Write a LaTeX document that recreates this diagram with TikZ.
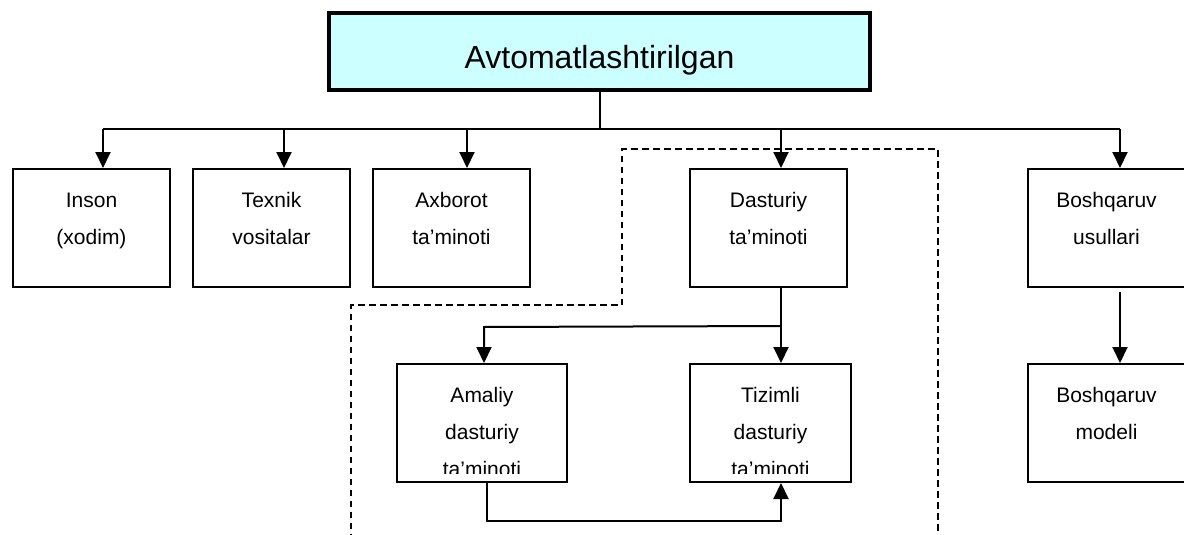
\documentclass[tikz,border=0pt]{standalone}
\usepackage{fontspec}
\setmainfont{Liberation Sans}
\usetikzlibrary{arrows.meta,calc}
\definecolor{titlecyan}{RGB}{204,255,255}
\tikzset{
  box/.style={draw, line width=2pt, anchor=north west, inner sep=0pt,
    minimum width=157pt, minimum height=118pt, align=center,
    text height=75pt, text depth=43pt, font=\fontsize{21}{37}\selectfont},
  threelines/.style={text height=112pt, text depth=6pt},
  titlebox/.style={draw, line width=4pt, fill=titlecyan, inner sep=0pt,
    minimum width=541pt, minimum height=77pt,
    text height=56pt, text depth=21pt, font=\fontsize{32}{38}\selectfont},
  arr/.style={line width=2pt, -{Triangle[length=16pt,width=15pt]}},
  link/.style={line width=2pt},
  fence/.style={line width=1.5pt, dash pattern=on 6.5pt off 4.5pt}
}
\begin{document}
\begin{tikzpicture}[x=1pt,y=-1pt]
\useasboundingbox (0,0) rectangle (1184,535);
% title
\node[titlebox] (auto) at (599.5,51.5) {Avtomatlashtirilgan};
% top row
\node[box] (inson) at (12,168) {Inson\\(xodim)};
\node[box] (texnik) at (192,168) {Texnik\\vositalar};
\node[box] (axborot) at (372,168) {Axborot\\ta’minoti};
\node[box] (dastur) at (689,168) {Dasturiy\\ta’minoti};
\node[box] (boshusul) at (1027,168) {Boshqaruv\\usullari};
% bottom row
\node[box, minimum width=170pt] (amaliy) at (396,363) {};
\node[box, minimum width=161pt] (tizimli) at (689,363) {};
\node[box] (boshmodel) at (1027,363) {Boshqaruv\\modeli};
\begin{scope}
  \clip (amaliy.north west) rectangle ($(amaliy.south east)+(0,-10)$);
  \node[box, threelines, draw=none, anchor=north] (amaliytxt) at (amaliy.north) {Amaliy\\dasturiy\\ta’minoti};
\end{scope}
\begin{scope}
  \clip (tizimli.north west) rectangle ($(tizimli.south east)+(0,-10)$);
  \node[box, threelines, draw=none, anchor=north] (tizimlitxt) at (tizimli.north) {Tizimli\\dasturiy\\ta’minoti};
\end{scope}
% bus
\coordinate (bus) at (auto.south |- 0,129);
\draw[link] (auto.south) -- (bus);
\draw[link] ($(inson.north |- bus)+(11.5,0)$) -- ($(boshusul.north |- bus)+(13.5,0)$);
\foreach \n/\dx in {inson/11.5,texnik/12.5,axborot/15.5,dastur/12.5,boshusul/13.5}
  \draw[arr] ($(\n.north |- bus)+(\dx,0)$) -- ($(\n.north)+(\dx,0)$);
% software part
\draw[fence] (351,540) -- (351,305) -- (622,305) -- (622,149) -- (938,149) -- (938,540);
\coordinate (dv) at ($(dastur.south)+(12.5,0)$);
\draw[arr] (dv) -- (dv |- tizimli.north);
\draw[arr] ($(dv)+(0,38)$) -- ($(amaliy.north)+(2,-36)$) -- ($(amaliy.north)+(2,0)$);
\draw[arr] ($(amaliy.south)+(5,0)$) -- ++(0,38) -| (dv |- tizimli.south);
% management
\draw[arr] ($(boshusul.south)+(13.5,4)$) -- ($(boshmodel.north)+(13.5,0)$);
\end{tikzpicture}
\end{document}
